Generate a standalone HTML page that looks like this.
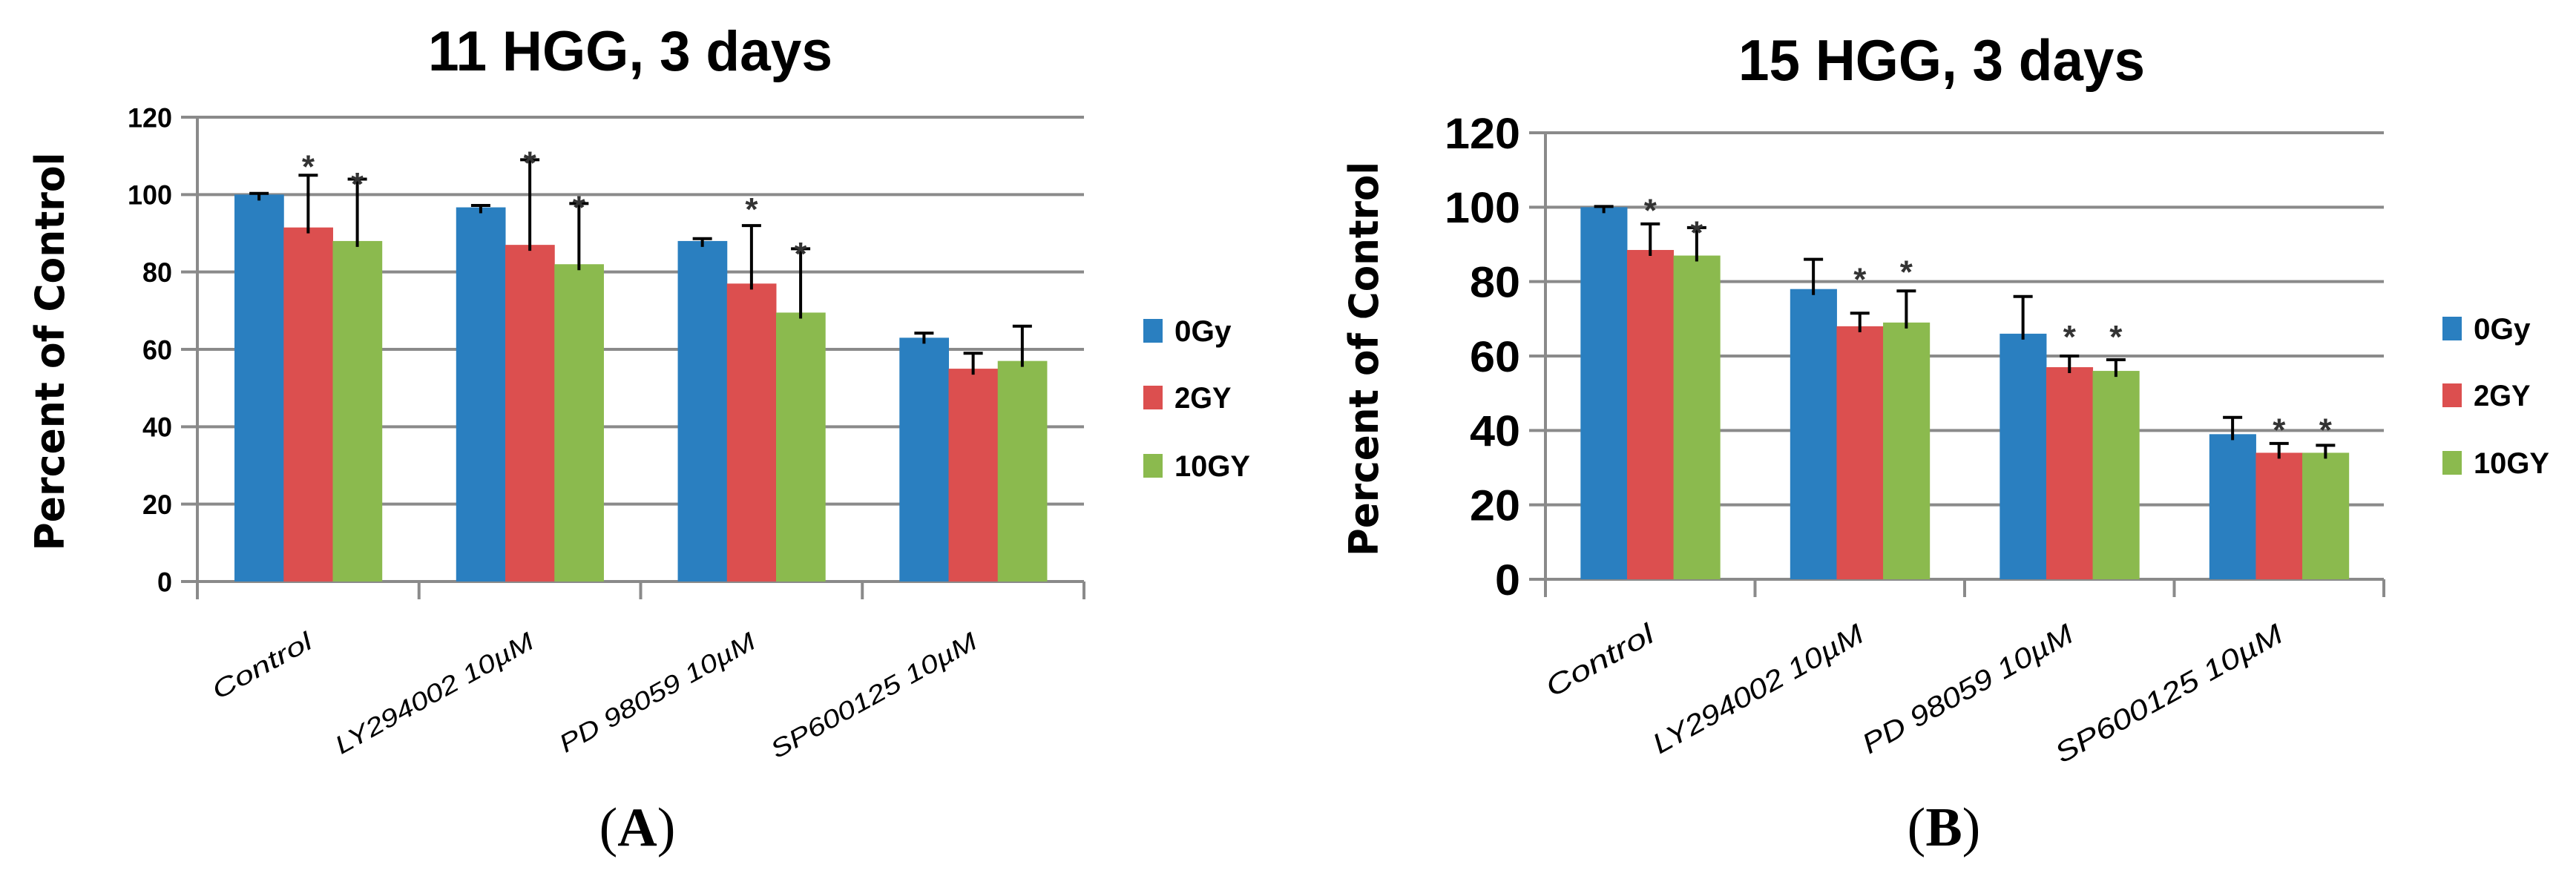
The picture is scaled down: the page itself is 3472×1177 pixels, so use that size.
<!DOCTYPE html>
<html><head><meta charset="utf-8">
<style>
html,body{margin:0;padding:0;background:#fff;}
svg{display:block;}
text{font-family:"Liberation Sans",sans-serif;}
</style></head>
<body>
<svg id="fig" width="3472" height="1177" viewBox="0 0 3472 1177" xmlns="http://www.w3.org/2000/svg">
<g id="chartA"></g>
<g id="chartB"></g>
<text x="859" y="1140" text-anchor="middle" font-size="74" style="font-family:'Liberation Serif',serif">(<tspan font-weight="bold">A</tspan>)</text>
<text x="2620" y="1140" text-anchor="middle" font-size="74" style="font-family:'Liberation Serif',serif">(<tspan font-weight="bold">B</tspan>)</text>
</svg>
<script>
const categories = ["Control","LY294002 10\u00b5M","PD 98059 10\u00b5M","SP600125 10\u00b5M"];
const seriesNames = ["0Gy","2GY","10GY"];
const yTicks = [0,20,40,60,80,100,120];
const aValues0 = [100,96.7,88,63];
const aValues2 = [91.5,87,77,55];
const aValues10 = [88,82,69.5,57];
const aErr0 = [100.3,97.2,88.6,64.2];
const aErr2 = [105,109,92,59];
const aErr10 = [104,97.7,86,66];
const aStars2 = [109,110,98,null];
const aStars10 = [104.5,98.5,86.5,null];
const bValues0 = [100,78,66,39];
const bValues2 = [88.5,68,57,34];
const bValues10 = [87,69,56,34];
const bErr0 = [100.2,86,76,43.5];
const bErr2 = [95.5,71.5,60,36.5];
const bErr10 = [94.5,77.5,59,36];
const bStars2 = [101,82.5,67,42];
const bStars10 = [95,84.5,67,42];

const COLORS = ["#2a7fc0","#dc4f4f","#8bba4e"];
const NS = "http://www.w3.org/2000/svg";
function mk(parent, tag, attrs, txt){
  const e = document.createElementNS(NS, tag);
  for (const k in attrs) e.setAttribute(k, attrs[k]);
  if (txt !== undefined) e.textContent = txt;
  parent.appendChild(e);
  return e;
}
function drawChart(g, cfg, vals, errs, stars){
  const yScale = v => cfg.y0 - (v/120)*(cfg.y0 - cfg.y120);
  const catW = (cfg.x1 - cfg.x0)/categories.length;
  const xCat = i => cfg.x0 + i*catW;
  // title
  const t = mk(g,'text',{x:cfg.titleX,y:cfg.titleY,'font-size':cfg.titleSize,'font-weight':'bold',textLength:cfg.titleLen,lengthAdjust:'spacingAndGlyphs'},cfg.title);
  
  
  // gridlines & ticks
  yTicks.forEach(v=>{
    const y = yScale(v);
    const l = mk(g,'line',{x1:cfg.x0-22,x2:cfg.x1,y1:y,y2:y,stroke:'#8a8a8a','stroke-width':4});
    
    
    const lb = mk(g,'text',{x:cfg.x0-34,y:y+cfg.tickSize*0.36,'text-anchor':'end','font-size':cfg.tickSize,'font-weight':'bold',textLength:cfg.tickCharW*String(v).length,lengthAdjust:'spacingAndGlyphs'},String(v));
    
    
  });
  const ax = mk(g,'line',{x1:cfg.x0,x2:cfg.x0,y1:yScale(120),y2:yScale(0)+24,stroke:'#8a8a8a','stroke-width':4});
  
  
  for (let i=0;i<=categories.length;i++){
    const tk = mk(g,'line',{x1:xCat(i),x2:xCat(i),y1:yScale(0),y2:yScale(0)+24,stroke:'#8a8a8a','stroke-width':4});
    
    
  }
  // bars
  const groupW = catW*0.665;
  const bw = groupW/3;
  categories.forEach((c,i)=>{
    const gx = xCat(i) + (catW-groupW)/2;
    for (let s=0;s<3;s++){
      const v = vals[s][i];
      const x = gx + s*bw;
      const r = mk(g,'rect',{x:x,y:yScale(v),width:bw+0.5,height:yScale(0)-yScale(v),fill:COLORS[s]});
      
      
      const cx = x + bw/2;
      const e = errs[s][i];
      const el = mk(g,'path',{d:`M${cx},${yScale(v)+8} V${yScale(e)} M${cx-13},${yScale(e)} H${cx+13}`,stroke:'#000','stroke-width':4,fill:'none'});
      
      
      const st = stars[s] ? stars[s][i] : null;
      if (st !== null && st !== undefined){
        const sx = mk(g,'text',{x:cx,y:yScale(st)+cfg.starSize*0.55,'text-anchor':'middle','font-size':cfg.starSize,'font-weight':'bold',fill:'#333'},'*');
        
        
      }
    }
    const lx = xCat(i)+catW/2+8, ly = yScale(0)+cfg.labelDy;
    const lt = mk(g,'text',{x:lx,y:ly,'text-anchor':'end','font-size':cfg.labelSize,'font-style':'italic',transform:`rotate(-29 ${lx} ${ly})`,textLength:cfg.labelLens[i],lengthAdjust:'spacingAndGlyphs'},categories[i]);
    
    
  });
  // y title
  const yt = mk(g,'text',{x:cfg.ytX,y:cfg.ytY,'text-anchor':'middle','font-size':cfg.ytSize,'font-weight':'bold',transform:`rotate(-90 ${cfg.ytX} ${cfg.ytY})`,textLength:cfg.ytLen,lengthAdjust:'spacingAndGlyphs',style:'font-family:"DejaVu Sans",sans-serif'},'Percent of Control');
  
  
  // legend
  seriesNames.forEach((n,s)=>{
    const ly = cfg.legY[s];
    const sq = mk(g,'rect',{x:cfg.legX,y:ly-16,width:26,height:32,fill:COLORS[s]});
    
    
    const tx = mk(g,'text',{x:cfg.legX+42,y:ly+14,'font-size':40,'font-weight':'bold',textLength:n.length*25.5,lengthAdjust:'spacingAndGlyphs'},n);
    
    
  });
}
drawChart(document.getElementById('chartA'),{
  x0:266,x1:1461,y0:784,y120:158,title:'11 HGG, 3 days',titleX:577,titleY:95,titleSize:76,titleLen:545,
  tickSize:37,tickCharW:20,starSize:44,labelSize:34,labelDy:88,labelLens:[148,300,296,312],
  ytX:86,ytY:474,ytSize:54,ytLen:537,legX:1541,legY:[446,536,628]
},[aValues0,aValues2,aValues10],[aErr0,aErr2,aErr10],[null,aStars2,aStars10]);
drawChart(document.getElementById('chartB'),{
  x0:2083,x1:3213,y0:781,y120:179,title:'15 HGG, 3 days',titleX:2343,titleY:108,titleSize:78,titleLen:548,
  tickSize:58,tickCharW:34,starSize:44,labelSize:38,labelDy:82,labelLens:[160,318,318,344],
  ytX:1857,ytY:484,ytSize:54,ytLen:532,legX:3292,legY:[443,533,624]
},[bValues0,bValues2,bValues10],[bErr0,bErr2,bErr10],[null,bStars2,bStars10]);
</script>
</body></html>
